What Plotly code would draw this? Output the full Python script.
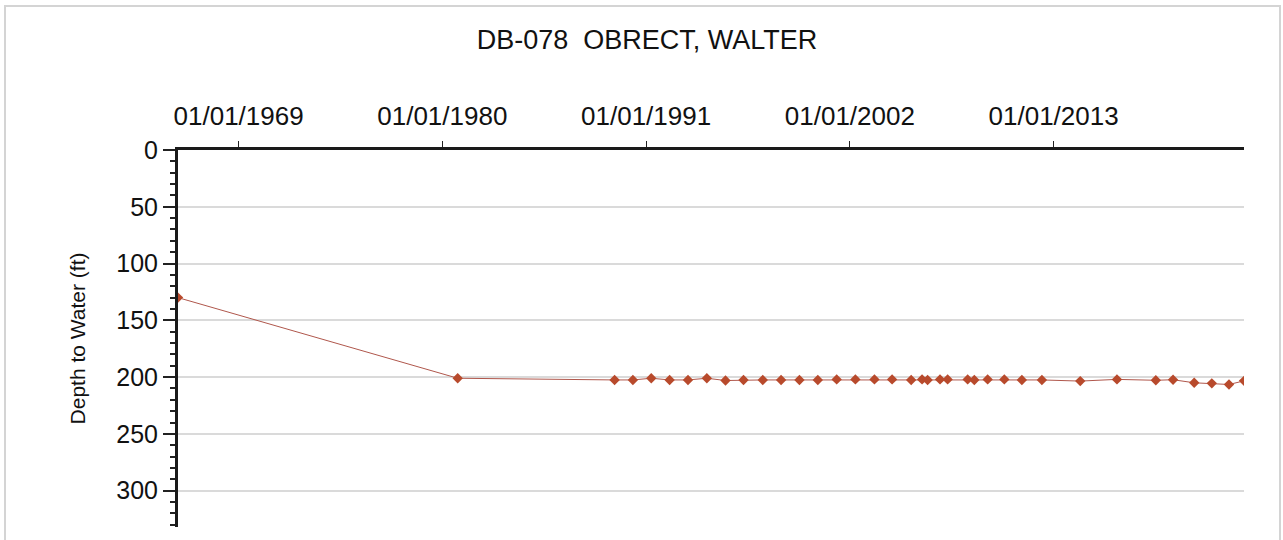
import plotly.graph_objects as go

# ---- data ----
dates = [
    "1965-09-24", "1980-10-30",
    "1989-04-20", "1990-04-16", "1991-04-13", "1992-04-09", "1993-04-06",
    "1994-04-13", "1995-04-16", "1996-04-05", "1997-04-20", "1998-04-16",
    "1999-04-13", "2000-04-09", "2001-04-16", "2002-04-20", "2003-05-01",
    "2004-04-13", "2005-04-24", "2005-11-25", "2006-03-14", "2006-11-14",
    "2007-04-13", "2008-05-12", "2008-09-20", "2009-06-10", "2010-05-05",
    "2011-04-16", "2012-05-15", "2014-06-10", "2016-06-03", "2018-07-09",
    "2019-06-14", "2020-08-04", "2021-07-17", "2022-06-21", "2023-04-13",
]
depth_ft = [
    130.0, 201.0,
    202.5, 202.5, 201.0, 202.5, 202.5,
    201.0, 203.0, 202.5, 202.5, 202.5,
    202.5, 202.5, 202.0, 202.0, 202.0,
    202.0, 202.5, 202.0, 202.5, 202.0,
    202.0, 202.0, 202.5, 202.0, 202.0,
    202.5, 202.5, 203.5, 202.0, 202.8,
    202.3, 205.0, 205.5, 206.5, 203.3,
]
x_tick_dates = ["1969-01-01", "1980-01-01", "1991-01-01", "2002-01-01", "2013-01-01"]
x_tick_labels = ["01/01/1969", "01/01/1980", "01/01/1991", "01/01/2002", "01/01/2013"]
y_tick_values = [0, 50, 100, 150, 200, 250, 300]
y_max = 332

title_text = "DB-078  OBRECT, WALTER"
y_title = "Depth to Water (ft)"

FONT = "Liberation Sans, Arial, sans-serif"

W, H = 1283, 540
ML, MR, MT, MB = 178, 39, 150, 13

fig = go.Figure()
fig.add_trace(go.Scatter(
    x=dates, y=depth_ft, mode="lines+markers",
    line=dict(color="#b0574c", width=1),
    marker=dict(symbol="diamond", size=8, color="#b84a2c",
                line=dict(width=0)),
    hoverinfo="x+y", showlegend=False,
))

# light grey frame around the whole chart
pw = W - ML - MR
ph = H - MT - MB
fig.add_shape(
    type="rect", xref="paper", yref="paper",
    x0=(5 - ML) / pw, x1=(1280 - ML) / pw,
    y0=(H - MB - 560) / ph, y1=(H - MB - 6) / ph,
    line=dict(color="#d4d4d4", width=2), fillcolor="rgba(0,0,0,0)",
    layer="below",
)

fig.update_layout(
    width=W, height=H,
    margin=dict(l=ML, r=MR, t=MT, b=MB, pad=0, autoexpand=False),
    paper_bgcolor="white", plot_bgcolor="white",
    font=dict(family=FONT, color="#111111"),
    title=dict(text=title_text, x=647 / W, xanchor="center",
               y=1 - 40 / H, yanchor="middle", automargin=False,
               font=dict(size=27, family=FONT, color="#111111")),
    xaxis=dict(
        type="date", side="top", automargin=False,
        range=[dates[0], dates[-1]],
        tickmode="array", tickvals=x_tick_dates, ticktext=x_tick_labels,
        ticks="outside", ticklen=6, tickwidth=1, tickcolor="#222",
        showline=True, linewidth=3, linecolor="#1a1a1a",
        showgrid=False, zeroline=False,
        tickfont=dict(size=26, family=FONT, color="#111111"),
        ticklabelstandoff=6,
    ),
    yaxis=dict(
        range=[y_max, 0], automargin=False,
        tickmode="array", tickvals=y_tick_values,
        ticks="outside", ticklen=12, tickwidth=1.5, tickcolor="#222",
        showline=True, linewidth=3, linecolor="#1a1a1a",
        showgrid=True, gridcolor="#dadada", gridwidth=2,
        zeroline=False,
        tickfont=dict(size=25, family=FONT, color="#111111"),
        minor=dict(dtick=10, tick0=0, ticks="outside", ticklen=5,
                   tickwidth=1.5, tickcolor="#222", showgrid=False),
        title=dict(text=y_title, standoff=25,
                   font=dict(size=21, family=FONT, color="#111111")),
    ),
)

fig.write_html(
    "out.html",
    config={"displayModeBar": False},
    post_script="document.body.style.margin='0px';document.body.style.overflow='hidden';",
)
